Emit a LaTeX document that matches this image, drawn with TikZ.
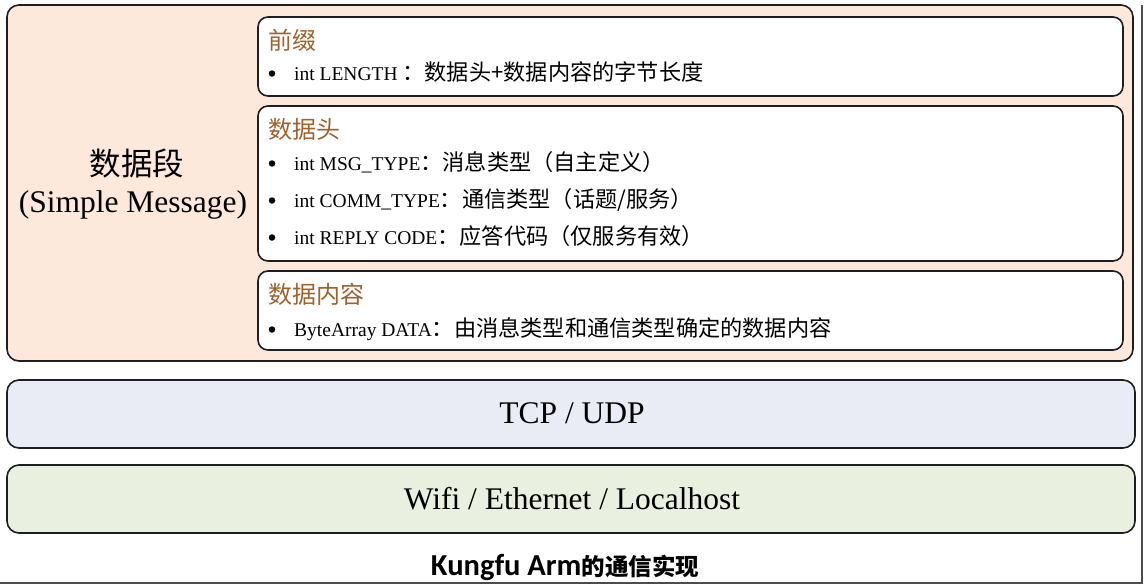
\documentclass[tikz,border=0pt]{standalone}
\usepackage{fontspec}
\setmainfont{Liberation Serif}
\newfontfamily\cjk{Noto Sans CJK SC}
\newfontfamily\capfont{Carlito}
\definecolor{peach}{HTML}{FCE9DC}
\definecolor{paleblue}{HTML}{E9ECF5}
\definecolor{palegreen}{HTML}{EAF0E0}
\definecolor{titlebrown}{HTML}{A0622C}
\definecolor{edge}{HTML}{1E1E1E}
\newcommand\zh[1]{{\cjk\fontsize{22.2}{24}\selectfont #1}}
\begin{document}
\begin{tikzpicture}[x=1pt,y=-1pt,
  layer/.style={draw=edge,line width=1.6pt,rounded corners=12pt},
  sub/.style={draw=edge,line width=1.6pt,rounded corners=10pt,fill=white},
  ttl/.style={anchor=base west,inner sep=0pt,text=titlebrown,font=\cjk\fontsize{24}{27}\selectfont},
  itm/.style={anchor=base west,inner sep=0pt,font=\fontsize{19.5}{24}\selectfont},
  bul/.style={circle,fill=black,inner sep=0pt,minimum size=6.5pt},
  big/.style={anchor=base,inner sep=0pt,font=\fontsize{31.5}{36}\selectfont}]
\useasboundingbox[fill=white] (0,0) rectangle (1146,587);
% screenshot shadow frame
\draw[black!70,line width=2pt] (1142,5) -- (1142,583) -- (0,583);
% layers
\draw[layer,fill=peach] (7,5) rectangle (1133,361);
\draw[sub] (258,17) rectangle (1123,96);
\draw[sub] (258,106) rectangle (1123,261);
\draw[sub] (258,271) rectangle (1123,350);
\draw[layer,fill=paleblue] (7,380) rectangle (1135,448);
\draw[layer,fill=palegreen] (7,465) rectangle (1135,533);
% left label
\node[anchor=base,inner sep=0pt,font=\cjk\fontsize{31.5}{36}\selectfont] (seg) at (137,175) {数据段};
\node[anchor=base,inner sep=0pt,font=\fontsize{31.5}{36}\selectfont] (sm) at (133,212) {(Simple Message)};
% prefix
\node[ttl] (t1) at (268,49) {前缀};
\node[bul] (b1) at (272,73.5) {};
\node[itm] (l1) at (294,80) {int LENGTH \zh{：数据头+数据内容的字节长度}};
% header
\node[ttl] (t2) at (268,138) {数据头};
\node[bul] (b2) at (272,163.5) {};
\node[itm] (l2) at (294,170) {int MSG\_TYPE\zh{：消息类型（自主定义）}};
\node[bul] (b3) at (272,200.5) {};
\node[itm] (l3) at (294,207) {int COMM\_TYPE\zh{：通信类型（话题/服务）}};
\node[bul] (b4) at (272,237.5) {};
\node[itm] (l4) at (294,244) {int REPLY CODE\zh{：应答代码（仅服务有效）}};
% content
\node[ttl] (t3) at (268,303) {数据内容};
\node[bul] (b5) at (272,329.5) {};
\node[itm] (l5) at (294,336) {ByteArray DATA\zh{：由消息类型和通信类型确定的数据内容}};
% lower layers
\node[big] (tcp) at (572,423) {TCP / UDP};
\node[big] (wifi) at (572,509) {Wifi / Ethernet / Localhost};
% caption
\node[anchor=base,inner sep=0pt] (cap) at (565,575) {{\capfont\bfseries\fontsize{30.5}{32}\selectfont Kungfu Arm}{\cjk\bfseries\fontsize{23.5}{26}\selectfont 的通信实现}};
\end{tikzpicture}
\end{document}
